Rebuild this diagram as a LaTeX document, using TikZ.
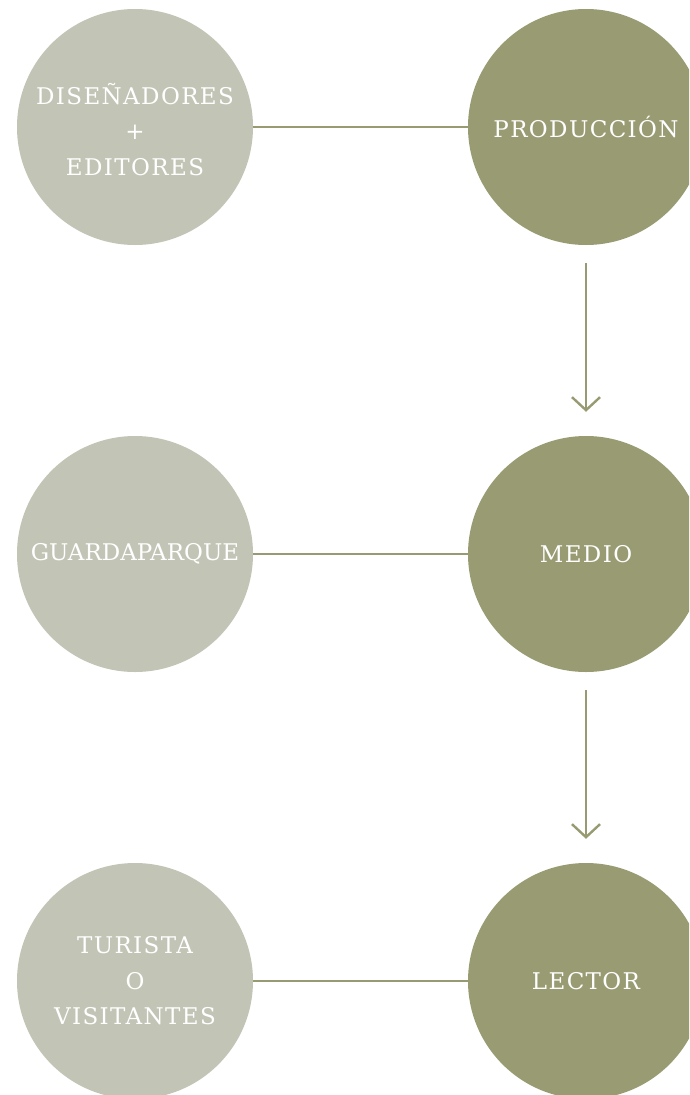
\documentclass[tikz,border=0pt]{standalone}
\usepackage{fontspec}
\usetikzlibrary{arrows.meta}
\newfontfamily\widefont[LetterSpace=6]{DejaVu Serif}
\newfontfamily\tightfont[LetterSpace=0]{DejaVu Serif}
\definecolor{lightc}{HTML}{C2C4B5}
\definecolor{darkc}{HTML}{999B73}
\definecolor{linec}{HTML}{989A72}
\tikzset{
  bubble/.style={circle, minimum size=236pt, inner sep=0pt, text=white, align=center,
    font=\widefont\fontsize{23}{35.5}\selectfont},
  lightbubble/.style={bubble, fill=lightc},
  darkbubble/.style={bubble, fill=darkc},
  conn/.style={draw=linec, line width=2.4pt},
  flow/.style={conn, -{Straight Barb[length=13pt,width=28pt,line width=2.4pt]}},
}
\begin{document}
\begin{tikzpicture}[x=1pt,y=-1pt]
\useasboundingbox (0,0) rectangle (689,1095);
\clip (0,0) rectangle (689,1095);
\node[lightbubble] (dis) at (135,127) {\raisebox{-12pt}[0pt][0pt]{\begin{tabular}{@{}c@{}}DISEÑADORES\\+\\EDITORES\end{tabular}}};
\node[darkbubble] (prod) at (586,127) {PRODUCCIÓN};
\node[lightbubble, font=\tightfont\fontsize{23}{35.5}\selectfont] (guar) at (135,554) {GUARDAPARQUE};
\node[darkbubble] (medio) at (586,554) {MEDIO};
\node[lightbubble] (tur) at (135,981) {TURISTA\\O\\VISITANTES};
\node[darkbubble] (lect) at (586,981) {LECTOR};
\draw[conn] (dis) -- (prod);
\draw[conn] (guar) -- (medio);
\draw[conn] (tur) -- (lect);
\draw[flow, shorten <=18pt, shorten >=24pt] (prod) -- (medio);
\draw[flow, shorten <=18pt, shorten >=24pt] (medio) -- (lect);
\end{tikzpicture}
\end{document}
